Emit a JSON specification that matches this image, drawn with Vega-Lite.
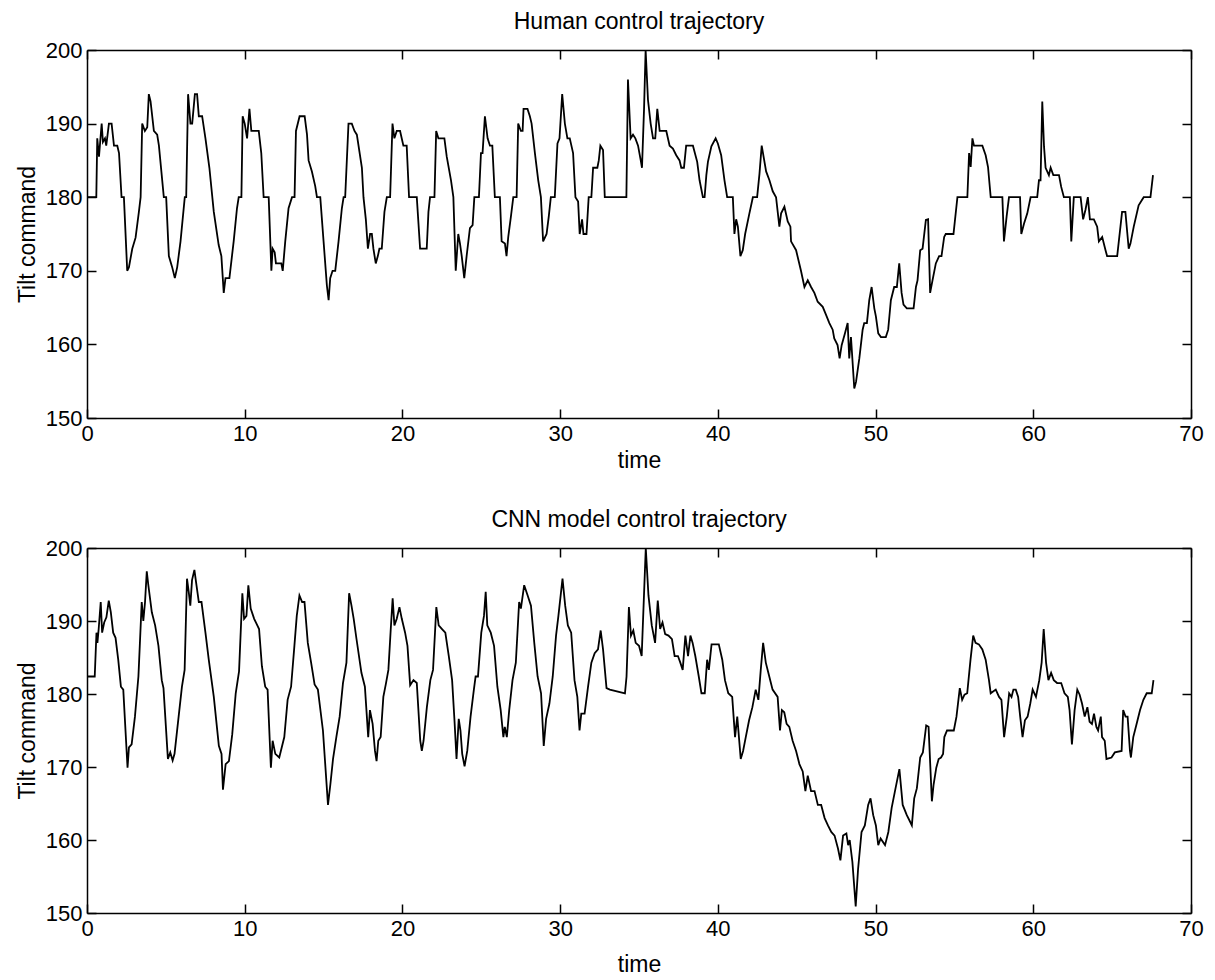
{
"$schema": "https://vega.github.io/schema/vega-lite/v6.json",
"background": "white",
"padding": {"left": 16, "top": 11, "right": 18, "bottom": 5},
"config": {
 "font": "Liberation Sans",
 "view": {"stroke": null},
 "axis": {"grid": false, "domainColor": "black", "domainWidth": 1.5, "tickColor": "black", "tickWidth": 1.5, "tickSize": -9, "labelFontSize": 22, "labelColor": "black", "titleFontSize": 23, "titleFontWeight": "normal", "titleColor": "black", "labelPadding": 14, "titlePadding": 6, "labelFlush": false, "labelOverlap": false},
 "title": {"fontSize": 23, "fontWeight": "normal", "color": "black", "offset": 5}
},
"datasets": {
"human": [
{"t":0.05,"v":180},{"t":0.59,"v":180},{"t":0.65,"v":188},{"t":0.76,"v":185.5},{"t":0.93,"v":190},{"t":1.01,"v":187.5},{"t":1.14,"v":188},{"t":1.22,"v":187},{"t":1.39,"v":190},{"t":1.56,"v":190},{"t":1.71,"v":187},{"t":1.92,"v":187},{"t":2.03,"v":186},{"t":2.19,"v":180},{"t":2.34,"v":180},{"t":2.55,"v":170},{"t":2.66,"v":170.5},{"t":2.87,"v":173},{"t":3.08,"v":174.5},{"t":3.29,"v":178},{"t":3.40,"v":180},{"t":3.50,"v":190},{"t":3.67,"v":189},{"t":3.82,"v":189.5},{"t":3.92,"v":194},{"t":4.03,"v":193},{"t":4.24,"v":189},{"t":4.45,"v":188.5},{"t":4.56,"v":187},{"t":4.87,"v":180},{"t":5.02,"v":180},{"t":5.19,"v":172},{"t":5.40,"v":170.5},{"t":5.57,"v":169},{"t":5.72,"v":170.5},{"t":5.93,"v":174},{"t":6.20,"v":180},{"t":6.29,"v":180},{"t":6.41,"v":194},{"t":6.56,"v":190},{"t":6.67,"v":190},{"t":6.84,"v":194},{"t":6.98,"v":194},{"t":7.09,"v":191},{"t":7.30,"v":191},{"t":7.51,"v":188},{"t":7.76,"v":184},{"t":8.04,"v":178},{"t":8.35,"v":173.5},{"t":8.52,"v":172},{"t":8.67,"v":167},{"t":8.78,"v":169},{"t":9.03,"v":169},{"t":9.30,"v":174},{"t":9.51,"v":178.5},{"t":9.62,"v":180},{"t":9.79,"v":180},{"t":9.87,"v":191},{"t":10.0,"v":190},{"t":10.15,"v":188},{"t":10.30,"v":192},{"t":10.42,"v":189},{"t":10.89,"v":189},{"t":11.05,"v":186},{"t":11.20,"v":180},{"t":11.52,"v":180},{"t":11.69,"v":170},{"t":11.77,"v":173},{"t":11.90,"v":172.5},{"t":11.98,"v":171},{"t":12.32,"v":171},{"t":12.41,"v":170},{"t":12.57,"v":174},{"t":12.78,"v":178.5},{"t":13.0,"v":180},{"t":13.16,"v":180},{"t":13.25,"v":189},{"t":13.48,"v":191},{"t":13.80,"v":191},{"t":13.95,"v":188.5},{"t":14.05,"v":185},{"t":14.26,"v":183.5},{"t":14.47,"v":181.5},{"t":14.58,"v":180},{"t":14.79,"v":180},{"t":15.0,"v":174},{"t":15.21,"v":168},{"t":15.32,"v":166},{"t":15.42,"v":169},{"t":15.57,"v":170},{"t":15.74,"v":170},{"t":15.95,"v":174},{"t":16.16,"v":178.5},{"t":16.27,"v":180},{"t":16.37,"v":180},{"t":16.58,"v":190},{"t":16.79,"v":190},{"t":16.96,"v":189},{"t":17.11,"v":188.5},{"t":17.43,"v":184},{"t":17.53,"v":180},{"t":17.68,"v":177},{"t":17.81,"v":173},{"t":17.95,"v":175},{"t":18.06,"v":175},{"t":18.16,"v":173},{"t":18.31,"v":171},{"t":18.44,"v":172},{"t":18.54,"v":173},{"t":18.69,"v":173},{"t":18.86,"v":178},{"t":19.01,"v":180},{"t":19.22,"v":180},{"t":19.37,"v":190},{"t":19.49,"v":188},{"t":19.64,"v":189},{"t":19.85,"v":189},{"t":20.06,"v":187},{"t":20.27,"v":187},{"t":20.42,"v":180},{"t":20.91,"v":180},{"t":21.12,"v":173},{"t":21.54,"v":173},{"t":21.65,"v":178},{"t":21.75,"v":180},{"t":22.03,"v":180},{"t":22.14,"v":189},{"t":22.28,"v":188},{"t":22.45,"v":188},{"t":22.66,"v":188},{"t":22.81,"v":185.5},{"t":23.08,"v":182.3},{"t":23.23,"v":180},{"t":23.38,"v":170},{"t":23.54,"v":175},{"t":23.65,"v":173.7},{"t":23.76,"v":172},{"t":23.92,"v":169},{"t":24.07,"v":172},{"t":24.28,"v":175.8},{"t":24.45,"v":176.2},{"t":24.56,"v":180},{"t":24.85,"v":180},{"t":24.98,"v":186},{"t":25.08,"v":186},{"t":25.23,"v":191},{"t":25.40,"v":188},{"t":25.55,"v":187},{"t":25.70,"v":187},{"t":25.86,"v":180},{"t":26.18,"v":180},{"t":26.29,"v":174},{"t":26.50,"v":173.7},{"t":26.60,"v":172},{"t":26.71,"v":174.6},{"t":26.88,"v":177.4},{"t":27.03,"v":180},{"t":27.24,"v":180},{"t":27.34,"v":190},{"t":27.51,"v":189},{"t":27.62,"v":189},{"t":27.68,"v":192},{"t":27.93,"v":192},{"t":28.08,"v":191},{"t":28.19,"v":190},{"t":28.40,"v":186},{"t":28.61,"v":182.3},{"t":28.78,"v":180},{"t":28.92,"v":174},{"t":29.14,"v":175},{"t":29.28,"v":177.4},{"t":29.41,"v":180},{"t":29.66,"v":180},{"t":29.83,"v":187.3},{"t":29.96,"v":188},{"t":30.13,"v":194},{"t":30.30,"v":190},{"t":30.46,"v":188},{"t":30.61,"v":188},{"t":30.82,"v":186},{"t":30.97,"v":180},{"t":31.14,"v":179.4},{"t":31.24,"v":175},{"t":31.39,"v":177},{"t":31.48,"v":175},{"t":31.67,"v":175},{"t":31.81,"v":180},{"t":31.98,"v":180},{"t":32.09,"v":184},{"t":32.36,"v":184},{"t":32.45,"v":185},{"t":32.55,"v":187},{"t":32.72,"v":186.4},{"t":32.83,"v":180},{"t":33.04,"v":180},{"t":34.20,"v":180},{"t":34.30,"v":196},{"t":34.47,"v":188},{"t":34.62,"v":188.5},{"t":34.77,"v":188},{"t":34.94,"v":187},{"t":35.11,"v":185},{"t":35.19,"v":184},{"t":35.32,"v":192},{"t":35.42,"v":200},{"t":35.57,"v":193.2},{"t":35.74,"v":190},{"t":35.89,"v":188},{"t":36.03,"v":188},{"t":36.16,"v":192},{"t":36.31,"v":189},{"t":36.52,"v":189},{"t":36.73,"v":189},{"t":36.94,"v":187},{"t":37.15,"v":186.6},{"t":37.36,"v":185.7},{"t":37.57,"v":185},{"t":37.68,"v":184},{"t":37.85,"v":184},{"t":37.99,"v":187},{"t":38.42,"v":187},{"t":38.69,"v":184.8},{"t":38.84,"v":182.3},{"t":39.05,"v":180},{"t":39.16,"v":180},{"t":39.27,"v":183},{"t":39.37,"v":184.8},{"t":39.59,"v":186.9},{"t":39.86,"v":188},{"t":40.0,"v":187.3},{"t":40.21,"v":185.7},{"t":40.42,"v":182.3},{"t":40.59,"v":180},{"t":40.95,"v":180},{"t":41.05,"v":175},{"t":41.16,"v":177},{"t":41.27,"v":176},{"t":41.43,"v":172},{"t":41.58,"v":172.8},{"t":41.73,"v":175},{"t":42.0,"v":177.8},{"t":42.22,"v":180},{"t":42.49,"v":180},{"t":42.64,"v":183.2},{"t":42.78,"v":187},{"t":43.06,"v":183.5},{"t":43.27,"v":182.3},{"t":43.48,"v":180.8},{"t":43.69,"v":180},{"t":43.90,"v":176},{"t":44.01,"v":177.8},{"t":44.22,"v":178.7},{"t":44.43,"v":176.7},{"t":44.60,"v":176},{"t":44.64,"v":174},{"t":44.96,"v":172.8},{"t":45.27,"v":170},{"t":45.49,"v":167.8},{"t":45.70,"v":168.7},{"t":45.91,"v":167.8},{"t":46.12,"v":167},{"t":46.33,"v":165.8},{"t":46.65,"v":165.1},{"t":46.86,"v":164},{"t":47.07,"v":162.9},{"t":47.28,"v":162},{"t":47.38,"v":160.8},{"t":47.59,"v":159.9},{"t":47.72,"v":158.1},{"t":47.85,"v":159.9},{"t":48.06,"v":161.5},{"t":48.23,"v":162.9},{"t":48.33,"v":158.1},{"t":48.44,"v":161},{"t":48.65,"v":154},{"t":48.76,"v":154.9},{"t":48.97,"v":158.1},{"t":49.18,"v":162},{"t":49.28,"v":162.9},{"t":49.45,"v":162.9},{"t":49.60,"v":166},{"t":49.75,"v":167.8},{"t":49.92,"v":164.9},{"t":50.02,"v":163.8},{"t":50.17,"v":161.5},{"t":50.34,"v":161},{"t":50.65,"v":161},{"t":50.80,"v":162},{"t":50.97,"v":166},{"t":51.18,"v":167.8},{"t":51.35,"v":167.8},{"t":51.50,"v":171},{"t":51.65,"v":167},{"t":51.77,"v":165.4},{"t":51.98,"v":164.9},{"t":52.41,"v":164.9},{"t":52.56,"v":167.8},{"t":52.66,"v":168.7},{"t":52.83,"v":172.8},{"t":52.98,"v":173},{"t":53.19,"v":176.9},{"t":53.33,"v":177},{"t":53.46,"v":167},{"t":53.61,"v":168.7},{"t":53.82,"v":171},{"t":54.03,"v":172},{"t":54.18,"v":172},{"t":54.35,"v":174.6},{"t":54.45,"v":175},{"t":54.94,"v":175},{"t":55.19,"v":180},{"t":55.82,"v":180},{"t":55.93,"v":186},{"t":56.03,"v":184.1},{"t":56.14,"v":188},{"t":56.24,"v":187},{"t":56.77,"v":187},{"t":56.98,"v":185.7},{"t":57.13,"v":184.1},{"t":57.30,"v":180},{"t":58.04,"v":180},{"t":58.14,"v":174},{"t":58.31,"v":177.4},{"t":58.46,"v":180},{"t":59.16,"v":180},{"t":59.24,"v":175},{"t":59.41,"v":176.4},{"t":59.62,"v":177.8},{"t":59.83,"v":180},{"t":60.25,"v":180},{"t":60.36,"v":182.3},{"t":60.46,"v":182.3},{"t":60.57,"v":193},{"t":60.68,"v":186.9},{"t":60.78,"v":184},{"t":60.99,"v":183},{"t":61.10,"v":184},{"t":61.27,"v":183},{"t":61.63,"v":183},{"t":61.77,"v":181.4},{"t":61.94,"v":180},{"t":62.32,"v":180},{"t":62.41,"v":174},{"t":62.57,"v":180},{"t":63.0,"v":180},{"t":63.16,"v":177},{"t":63.31,"v":178.3},{"t":63.46,"v":180},{"t":63.59,"v":177},{"t":63.84,"v":177},{"t":64.05,"v":176},{"t":64.16,"v":174},{"t":64.37,"v":174.6},{"t":64.58,"v":172.8},{"t":64.68,"v":172},{"t":65.32,"v":172},{"t":65.63,"v":178},{"t":65.84,"v":178},{"t":66.05,"v":173},{"t":66.16,"v":173.7},{"t":66.37,"v":176},{"t":66.68,"v":178.9},{"t":67.0,"v":180},{"t":67.43,"v":180},{"t":67.59,"v":183}
],
"cnn": [
{"t":0.0,"v":182.4},{"t":0.49,"v":182.4},{"t":0.60,"v":188.4},{"t":0.66,"v":187},{"t":0.74,"v":188.9},{"t":0.87,"v":192.6},{"t":0.96,"v":188.4},{"t":1.09,"v":189.8},{"t":1.23,"v":190.5},{"t":1.38,"v":192.8},{"t":1.51,"v":191.2},{"t":1.66,"v":188.4},{"t":1.81,"v":187.7},{"t":1.98,"v":184.7},{"t":2.15,"v":181},{"t":2.30,"v":180.6},{"t":2.57,"v":169.9},{"t":2.66,"v":172.7},{"t":2.83,"v":173.1},{"t":3.04,"v":176.9},{"t":3.26,"v":182.4},{"t":3.47,"v":192.6},{"t":3.57,"v":190},{"t":3.68,"v":192.6},{"t":3.79,"v":196.8},{"t":3.89,"v":194.9},{"t":4.11,"v":191.2},{"t":4.32,"v":189.4},{"t":4.53,"v":186.6},{"t":4.74,"v":181.9},{"t":4.85,"v":180.8},{"t":5.13,"v":171.1},{"t":5.28,"v":172},{"t":5.43,"v":170.9},{"t":5.55,"v":171.8},{"t":5.81,"v":176.9},{"t":6.02,"v":181},{"t":6.19,"v":183.3},{"t":6.34,"v":195.8},{"t":6.45,"v":194},{"t":6.55,"v":192.1},{"t":6.66,"v":195.6},{"t":6.81,"v":197},{"t":6.91,"v":195.4},{"t":7.09,"v":192.6},{"t":7.26,"v":192.6},{"t":7.51,"v":188.4},{"t":7.72,"v":184.7},{"t":8.04,"v":179.6},{"t":8.36,"v":172.9},{"t":8.53,"v":171.8},{"t":8.62,"v":166.9},{"t":8.79,"v":170.4},{"t":9.0,"v":170.8},{"t":9.21,"v":174.5},{"t":9.43,"v":180.1},{"t":9.64,"v":183.1},{"t":9.85,"v":193.8},{"t":9.96,"v":190.3},{"t":10.11,"v":190.7},{"t":10.23,"v":194.9},{"t":10.38,"v":191.7},{"t":10.60,"v":190.3},{"t":10.91,"v":188.9},{"t":11.09,"v":183.8},{"t":11.30,"v":181},{"t":11.45,"v":180.6},{"t":11.66,"v":169.9},{"t":11.77,"v":173.6},{"t":11.94,"v":171.8},{"t":12.19,"v":171.3},{"t":12.51,"v":174.1},{"t":12.72,"v":179.2},{"t":12.94,"v":181},{"t":13.15,"v":186.6},{"t":13.30,"v":190.7},{"t":13.47,"v":193.5},{"t":13.64,"v":192.6},{"t":13.79,"v":192.6},{"t":14.0,"v":187},{"t":14.21,"v":184.3},{"t":14.43,"v":181.3},{"t":14.64,"v":180.6},{"t":14.96,"v":175},{"t":15.28,"v":164.8},{"t":15.43,"v":167.6},{"t":15.60,"v":171.1},{"t":15.81,"v":174.1},{"t":16.02,"v":176.9},{"t":16.23,"v":181.5},{"t":16.45,"v":184.3},{"t":16.62,"v":193.8},{"t":16.77,"v":192.1},{"t":16.91,"v":190.3},{"t":17.09,"v":187.5},{"t":17.40,"v":182.9},{"t":17.62,"v":181},{"t":17.83,"v":174.1},{"t":17.94,"v":177.8},{"t":18.11,"v":175.9},{"t":18.26,"v":172.2},{"t":18.36,"v":170.8},{"t":18.47,"v":173.6},{"t":18.62,"v":174.1},{"t":18.79,"v":179.6},{"t":18.96,"v":181.5},{"t":19.11,"v":183.3},{"t":19.26,"v":188.9},{"t":19.38,"v":193.1},{"t":19.49,"v":189.4},{"t":19.64,"v":190.3},{"t":19.81,"v":191.9},{"t":19.96,"v":190.3},{"t":20.17,"v":188.4},{"t":20.32,"v":186.6},{"t":20.49,"v":181.2},{"t":20.70,"v":181.9},{"t":20.91,"v":181.5},{"t":21.13,"v":173.6},{"t":21.23,"v":172.2},{"t":21.34,"v":173.6},{"t":21.55,"v":178.2},{"t":21.77,"v":181.9},{"t":21.94,"v":183.3},{"t":22.15,"v":191.9},{"t":22.30,"v":189.4},{"t":22.51,"v":188.9},{"t":22.72,"v":188.4},{"t":22.94,"v":185.2},{"t":23.15,"v":181.9},{"t":23.30,"v":176.4},{"t":23.43,"v":171.1},{"t":23.57,"v":176.6},{"t":23.68,"v":175},{"t":23.79,"v":171.8},{"t":23.94,"v":170.1},{"t":24.11,"v":172.2},{"t":24.32,"v":176.9},{"t":24.53,"v":180.6},{"t":24.64,"v":182.4},{"t":24.79,"v":182.4},{"t":25.0,"v":188.4},{"t":25.17,"v":190.7},{"t":25.28,"v":194},{"t":25.38,"v":189.4},{"t":25.60,"v":188.4},{"t":25.81,"v":186.6},{"t":26.02,"v":181},{"t":26.23,"v":177.8},{"t":26.40,"v":174.1},{"t":26.49,"v":175.5},{"t":26.62,"v":174.1},{"t":26.77,"v":177.8},{"t":26.98,"v":181.9},{"t":27.19,"v":184.3},{"t":27.40,"v":192.6},{"t":27.51,"v":191.7},{"t":27.72,"v":194.9},{"t":27.94,"v":193.5},{"t":28.15,"v":192.1},{"t":28.36,"v":187},{"t":28.57,"v":182.4},{"t":28.79,"v":180.1},{"t":28.96,"v":172.9},{"t":29.11,"v":176.6},{"t":29.32,"v":178.7},{"t":29.53,"v":182.4},{"t":29.74,"v":188},{"t":29.89,"v":190.7},{"t":30.15,"v":195.8},{"t":30.32,"v":192.1},{"t":30.49,"v":189.4},{"t":30.70,"v":188.4},{"t":30.91,"v":181.9},{"t":31.09,"v":179.6},{"t":31.23,"v":175},{"t":31.34,"v":177.3},{"t":31.55,"v":177.3},{"t":31.77,"v":181},{"t":31.98,"v":184.3},{"t":32.19,"v":185.6},{"t":32.40,"v":186.1},{"t":32.57,"v":188.7},{"t":32.72,"v":186.1},{"t":32.94,"v":180.8},{"t":33.15,"v":180.6},{"t":34.11,"v":180.1},{"t":34.21,"v":182.4},{"t":34.36,"v":191.9},{"t":34.49,"v":188},{"t":34.64,"v":188.7},{"t":34.79,"v":187},{"t":35.0,"v":186.6},{"t":35.17,"v":185.2},{"t":35.43,"v":200},{"t":35.60,"v":193.5},{"t":35.81,"v":189.4},{"t":36.02,"v":187},{"t":36.19,"v":192.8},{"t":36.34,"v":188.9},{"t":36.49,"v":189.8},{"t":36.66,"v":188.2},{"t":36.87,"v":188},{"t":37.09,"v":187.5},{"t":37.26,"v":185.2},{"t":37.47,"v":185.2},{"t":37.62,"v":184.3},{"t":37.77,"v":183.3},{"t":37.94,"v":188},{"t":38.11,"v":185.2},{"t":38.26,"v":188},{"t":38.40,"v":187},{"t":38.57,"v":185.2},{"t":38.79,"v":182.4},{"t":38.96,"v":180.1},{"t":39.17,"v":180.1},{"t":39.32,"v":184.7},{"t":39.43,"v":183.3},{"t":39.60,"v":186.8},{"t":40.06,"v":186.8},{"t":40.28,"v":184.7},{"t":40.45,"v":181.9},{"t":40.66,"v":180.1},{"t":40.91,"v":179.6},{"t":41.09,"v":174.1},{"t":41.23,"v":176.9},{"t":41.45,"v":171.1},{"t":41.60,"v":172.2},{"t":41.77,"v":174.1},{"t":41.98,"v":176.4},{"t":42.19,"v":178.2},{"t":42.40,"v":180.6},{"t":42.57,"v":179.2},{"t":42.72,"v":183.3},{"t":42.87,"v":187},{"t":43.04,"v":184.3},{"t":43.26,"v":182.4},{"t":43.47,"v":180.6},{"t":43.79,"v":179.6},{"t":43.94,"v":175},{"t":44.06,"v":177.8},{"t":44.21,"v":177.5},{"t":44.36,"v":175.9},{"t":44.53,"v":175.5},{"t":44.74,"v":173.6},{"t":44.96,"v":172.2},{"t":45.17,"v":170.4},{"t":45.38,"v":169.4},{"t":45.55,"v":166.7},{"t":45.70,"v":168.8},{"t":45.91,"v":166.7},{"t":46.13,"v":166.7},{"t":46.34,"v":164.8},{"t":46.55,"v":164.8},{"t":46.77,"v":163},{"t":46.98,"v":162},{"t":47.19,"v":161.1},{"t":47.40,"v":160.6},{"t":47.62,"v":158.8},{"t":47.77,"v":157.2},{"t":47.94,"v":160.6},{"t":48.15,"v":160.9},{"t":48.26,"v":159.3},{"t":48.36,"v":160},{"t":48.53,"v":157},{"t":48.74,"v":150.9},{"t":48.89,"v":156},{"t":49.11,"v":161.1},{"t":49.32,"v":162},{"t":49.53,"v":164.8},{"t":49.68,"v":165.7},{"t":49.85,"v":163.4},{"t":50.02,"v":162},{"t":50.17,"v":159.3},{"t":50.32,"v":160.2},{"t":50.60,"v":159.3},{"t":50.81,"v":161.1},{"t":51.02,"v":164.4},{"t":51.23,"v":166.7},{"t":51.51,"v":169.7},{"t":51.72,"v":164.8},{"t":51.98,"v":163.4},{"t":52.19,"v":162.5},{"t":52.30,"v":162},{"t":52.45,"v":165.7},{"t":52.62,"v":167.1},{"t":52.83,"v":171.3},{"t":53.0,"v":172},{"t":53.21,"v":175.7},{"t":53.36,"v":175.5},{"t":53.57,"v":165.3},{"t":53.68,"v":167.6},{"t":53.85,"v":169.9},{"t":54.0,"v":171.1},{"t":54.15,"v":171.3},{"t":54.28,"v":171.8},{"t":54.36,"v":174.1},{"t":54.53,"v":175},{"t":54.96,"v":175},{"t":55.13,"v":176.9},{"t":55.34,"v":180.8},{"t":55.49,"v":179.2},{"t":55.64,"v":179.9},{"t":55.81,"v":180.1},{"t":56.02,"v":184.7},{"t":56.19,"v":188},{"t":56.34,"v":187},{"t":56.55,"v":186.8},{"t":56.77,"v":186.1},{"t":56.98,"v":184.7},{"t":57.19,"v":181.9},{"t":57.30,"v":180.1},{"t":57.62,"v":180.6},{"t":57.83,"v":179.6},{"t":57.98,"v":179.2},{"t":58.15,"v":174.1},{"t":58.32,"v":176.9},{"t":58.47,"v":180.1},{"t":58.62,"v":179.6},{"t":58.74,"v":180.6},{"t":58.89,"v":180.6},{"t":59.04,"v":179.6},{"t":59.17,"v":176.9},{"t":59.32,"v":174.1},{"t":59.47,"v":176.4},{"t":59.64,"v":176.9},{"t":59.81,"v":178.7},{"t":59.96,"v":180.6},{"t":60.17,"v":179.6},{"t":60.38,"v":181.9},{"t":60.53,"v":184.3},{"t":60.66,"v":188.9},{"t":60.81,"v":184.3},{"t":60.96,"v":181.9},{"t":61.13,"v":182.9},{"t":61.30,"v":181.9},{"t":61.51,"v":181.5},{"t":61.77,"v":181.5},{"t":61.98,"v":180.1},{"t":62.19,"v":179.6},{"t":62.30,"v":177.8},{"t":62.45,"v":173.1},{"t":62.62,"v":177.8},{"t":62.79,"v":180.6},{"t":62.94,"v":179.9},{"t":63.09,"v":178.7},{"t":63.26,"v":176.9},{"t":63.43,"v":178.2},{"t":63.57,"v":176.2},{"t":63.72,"v":175.9},{"t":63.85,"v":177.3},{"t":64.0,"v":175.5},{"t":64.11,"v":175},{"t":64.28,"v":176.9},{"t":64.36,"v":174.1},{"t":64.53,"v":173.6},{"t":64.64,"v":171.1},{"t":64.96,"v":171.3},{"t":65.17,"v":172},{"t":65.60,"v":172.2},{"t":65.70,"v":177.8},{"t":65.85,"v":176.9},{"t":65.98,"v":176.9},{"t":66.13,"v":172.2},{"t":66.19,"v":171.3},{"t":66.34,"v":174.1},{"t":66.55,"v":175.9},{"t":66.77,"v":177.8},{"t":66.98,"v":179.2},{"t":67.19,"v":180.1},{"t":67.51,"v":180.1},{"t":67.62,"v":181.9}
]
},
"spacing": 37,
"vconcat": [
{
 "title": {"text": "Human control trajectory"},
 "width": 1104, "height": 368,
 "data": {"name": "human"},
 "layer": [
  {"mark": {"type": "line", "color": "black", "strokeWidth": 1.8},
   "encoding": {
    "x": {"field": "t", "type": "quantitative", "scale": {"domain": [0, 70], "nice": false, "zero": false}, "axis": {"orient": "bottom", "title": "time", "values": [0,10,20,30,40,50,60,70], "titlePadding": 5}},
    "y": {"field": "v", "type": "quantitative", "scale": {"domain": [150, 200], "nice": false, "zero": false}, "axis": {"orient": "left", "title": "Tilt command", "values": [150,160,170,180,190,200]}}
   }},
  {"transform": [{"filter": "datum.t < 0.1"}],
   "mark": {"type": "point", "opacity": 0},
   "encoding": {
    "x": {"field": "t", "type": "quantitative", "scale": {"domain": [0, 70], "nice": false, "zero": false}, "axis": {"orient": "top", "title": null, "labels": false, "values": [0,10,20,30,40,50,60,70]}},
    "y": {"field": "v", "type": "quantitative", "scale": {"domain": [150, 200], "nice": false, "zero": false}, "axis": {"orient": "right", "title": null, "labels": false, "values": [150,160,170,180,190,200]}}
   }}
 ],
 "resolve": {"axis": {"x": "independent", "y": "independent"}}
},
{
 "title": {"text": "CNN model control trajectory"},
 "width": 1104, "height": 365,
 "data": {"name": "cnn"},
 "layer": [
  {"mark": {"type": "line", "color": "black", "strokeWidth": 1.8},
   "encoding": {
    "x": {"field": "t", "type": "quantitative", "scale": {"domain": [0, 70], "nice": false, "zero": false}, "axis": {"orient": "bottom", "title": "time", "values": [0,10,20,30,40,50,60,70], "titlePadding": 14}},
    "y": {"field": "v", "type": "quantitative", "scale": {"domain": [150, 200], "nice": false, "zero": false}, "axis": {"orient": "left", "title": "Tilt command", "values": [150,160,170,180,190,200]}}
   }},
  {"transform": [{"filter": "datum.t < 0.1"}],
   "mark": {"type": "point", "opacity": 0},
   "encoding": {
    "x": {"field": "t", "type": "quantitative", "scale": {"domain": [0, 70], "nice": false, "zero": false}, "axis": {"orient": "top", "title": null, "labels": false, "values": [0,10,20,30,40,50,60,70]}},
    "y": {"field": "v", "type": "quantitative", "scale": {"domain": [150, 200], "nice": false, "zero": false}, "axis": {"orient": "right", "title": null, "labels": false, "values": [150,160,170,180,190,200]}}
   }}
 ],
 "resolve": {"axis": {"x": "independent", "y": "independent"}}
}
]
}
